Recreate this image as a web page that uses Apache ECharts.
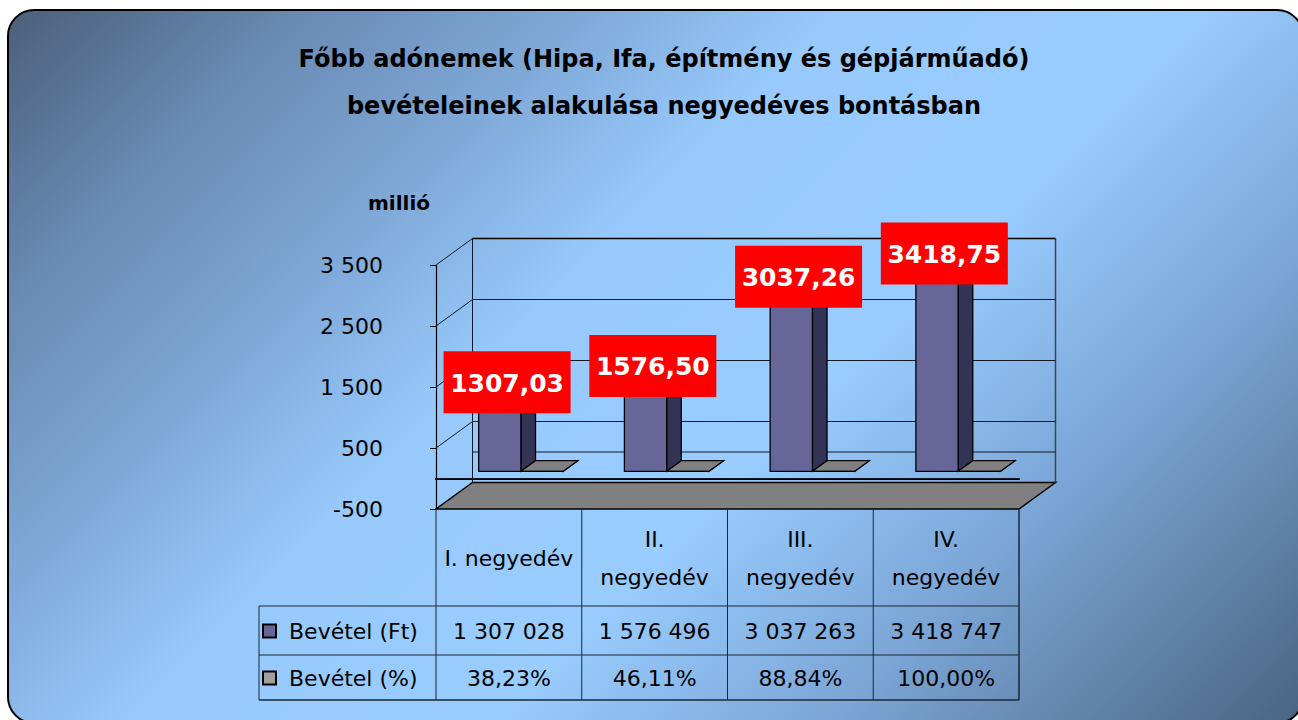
<!DOCTYPE html>
<html><head><meta charset="utf-8">
<script src="https://cdn.jsdelivr.net/npm/echarts@6/dist/echarts.min.js"></script>
<style>html,body{margin:0;padding:0;background:#fff;}#chart{width:1298px;height:720px;}</style>
</head><body><div id="chart"></div>
<script>
// ---------- data ----------
const titleText = 'Főbb adónemek (Hipa, Ifa, építmény és gépjárműadó)\nbevételeinek alakulása negyedéves bontásban';
const unitLabel = 'millió';
const categories = ['I. negyedév', 'II. negyedév', 'III. negyedév', 'IV. negyedév'];
const seriesNames = ['Bevétel (Ft)', 'Bevétel (%)'];
const revenue = [1307028, 1576496, 3037263, 3418747];   // table values (ezer Ft)
const revenueShare = [38.23, 46.11, 88.84, 100.00];     // %
const yTicks = [-500, 500, 1500, 2500, 3500];
const yMin = -500, yMax = 3500, yStep = 1000, zeroLevel = 0;

// ---------- layout / style ----------
const FONT = 'DejaVu Sans';
const DX = 36.5, DY = -26.5;         // full 3D depth offset
const D0 = 0.27, D1 = 0.67;          // bar depth fractions
const BAR_W = 0.29, SHIFT = 0.015;   // fraction of band
const GRID = {left: 436, top: 265, width: 583, height: 244};
const TABLE = {left: 259, rowTop: 606, rowMid: 655, bottom: 700};

const millions = revenue.map(r => r / 1000);
const fmtSpace = n => { const s = String(Math.abs(Math.round(n))).replace(/\B(?=(\d{3})+(?!\d))/g, ' '); return (n < 0 ? '-' : '') + s; };
const fmtDec = (n, d) => n.toFixed(d).replace('.', ',');

function line(a, b, c, d, extra) {
  return {type: 'line', shape: {x1: a, y1: b, x2: c, y2: d}, style: Object.assign({stroke: '#111a24', lineWidth: 1}, extra || {})};
}

function renderWalls(params, api) {
  const cs = params.coordSys;
  const v = api.value(1);
  const y = api.coord([0, v])[1];
  const x0 = cs.x, x1 = cs.x + cs.width;
  const els = [];
  if (v === yMin) {
    els.push({type: 'polygon', shape: {points: [[x0, y], [x1, y], [x1 + DX, y + DY], [x0 + DX, y + DY]]},
      style: {fill: '#808080', stroke: '#000', lineWidth: 1.5}});
    const yt = api.coord([0, yMax])[1];
    els.push(line(x0 + DX, yt + DY, x0 + DX, y + DY));
    els.push(line(x1 + DX, yt + DY, x1 + DX, y + DY, {stroke: '#34475a', lineWidth: 1.5}));
  } else if (v === zeroLevel) {
    els.push(line(x0, y, x1, y));
    els.push(line(x0 + DX, y + DY, x1 + DX, y + DY));
  } else {
    els.push(line(x0, y, x0 + DX, y + DY));
    els.push(line(x0 + DX, y + DY, x1 + DX, y + DY, v === yMax ? {stroke: '#000', lineWidth: 1.5} : null));
  }
  return {type: 'group', children: els};
}

function barGeom(api, slot) {
  const i = api.value(0), v = api.value(1);
  const c = api.coord([i, 0]);
  const bw = api.size([1, 0])[0];
  const W = BAR_W * bw, s = SHIFT * bw;
  const fx = DX * D0, fy = DY * D0;
  const xl = c[0] + s + (slot === 0 ? -W : 0) + fx;
  return {xl: xl, xr: xl + W, W: W, yb: c[1] + fy, yt: api.coord([i, v])[1] + fy,
          ddx: DX * (D1 - D0), ddy: DY * (D1 - D0)};
}

function barRenderer(slot, front, side, top) {
  return function (params, api) {
    const g = barGeom(api, slot);
    const st = {stroke: '#000', lineWidth: 1.3};
    return {type: 'group', children: [
      {type: 'polygon', shape: {points: [[g.xr, g.yb], [g.xr + g.ddx, g.yb + g.ddy], [g.xr + g.ddx, g.yt + g.ddy], [g.xr, g.yt]]},
        style: Object.assign({fill: side}, st)},
      {type: 'polygon', shape: {points: [[g.xl, g.yt], [g.xr, g.yt], [g.xr + g.ddx, g.yt + g.ddy], [g.xl + g.ddx, g.yt + g.ddy]]},
        style: Object.assign({fill: top}, st)},
      {type: 'rect', shape: {x: g.xl, y: g.yt, width: g.W, height: Math.max(0, g.yb - g.yt)},
        style: Object.assign({fill: front}, st)}
    ]};
  };
}

function renderLabel(params, api) {
  const g = barGeom(api, 0);
  const cx = (g.xl + g.xr) / 2 + g.ddx / 2;
  const cy = g.yt + g.ddy / 2 - 4;
  const w = 127, h = 62;
  return {type: 'group', children: [
    {type: 'rect', shape: {x: cx - w / 2, y: cy - h / 2, width: w, height: h}, style: {fill: '#ff0000'}},
    {type: 'text', x: cx, y: cy + 1, style: {text: fmtDec(api.value(1), 2), fill: '#fff',
      font: 'bold 25px "' + FONT + '"', align: 'center', verticalAlign: 'middle'}}
  ]};
}

const chart = echarts.init(document.getElementById('chart'), null, {renderer: 'svg', width: 1298, height: 720});

const bgGradient = new echarts.graphic.LinearGradient(0, 0, 1009, 1009, [
  {offset: 0, color: '#4a5c76'},
  {offset: 0.15, color: '#6889b2'},
  {offset: 0.3, color: '#80aad9'},
  {offset: 0.42, color: '#97c9fc'},
  {offset: 0.6, color: '#99ccff'},
  {offset: 0.77, color: '#7aa5d5'},
  {offset: 1, color: '#4b6482'}
], true);

const tableLineStyle = {stroke: '#1c2836', lineWidth: 1};
const tableRight = GRID.left + GRID.width;
const gridBottom = GRID.top + GRID.height;
const tableGraphics = [
  {type: 'line', z: 10, shape: {x1: TABLE.left, y1: TABLE.rowTop, x2: tableRight, y2: TABLE.rowTop}, style: tableLineStyle},
  {type: 'line', z: 10, shape: {x1: TABLE.left, y1: TABLE.rowMid, x2: tableRight, y2: TABLE.rowMid}, style: tableLineStyle},
  {type: 'line', z: 10, shape: {x1: TABLE.left, y1: TABLE.bottom, x2: tableRight, y2: TABLE.bottom}, style: {stroke: '#1c2836', lineWidth: 1.5}},
  {type: 'line', z: 10, shape: {x1: TABLE.left, y1: TABLE.rowTop, x2: TABLE.left, y2: TABLE.bottom}, style: tableLineStyle}
];
for (let k = 0; k <= categories.length; k++) {
  const x = GRID.left + k * GRID.width / categories.length;
  tableGraphics.push({type: 'line', z: 10, shape: {x1: x, y1: gridBottom, x2: x, y2: TABLE.bottom},
    style: {stroke: '#1c2836', lineWidth: k === categories.length ? 1.5 : 1}});
}

chart.setOption({
  animation: false,
  graphic: [
    {type: 'rect', z: -100, shape: {x: 8, y: 10, width: 1295, height: 713, r: 26},
      style: {fill: bgGradient, stroke: '#000', lineWidth: 2}}
  ].concat(tableGraphics),
  title: {
    text: titleText, left: 659, top: 30, textAlign: 'center',
    textStyle: {fontFamily: FONT, fontSize: 24, fontWeight: 'bold', color: '#000', lineHeight: 47}
  },
  legend: {
    data: seriesNames, orient: 'vertical', left: 262, top: 619, padding: 0,
    itemWidth: 13, itemHeight: 13, itemGap: 23, icon: 'rect', selectedMode: false,
    textStyle: {fontFamily: FONT, fontSize: 22, color: '#000', lineHeight: 24, padding: [0, 0, 0, 8]}
  },
  grid: {left: GRID.left, top: GRID.top, width: GRID.width, height: GRID.height, containLabel: false},
  xAxis: [
    {type: 'category', data: categories, boundaryGap: true, position: 'bottom',
      axisLine: {show: true, lineStyle: {color: '#000', width: 2}},
      axisTick: {show: false},
      axisLabel: {interval: 0, margin: 49, verticalAlign: 'middle', lineHeight: 38,
        fontFamily: FONT, fontSize: 22, color: '#000',
        formatter: v => v.length > 11 ? v.replace(' ', '\n') : v},
      splitLine: {show: false}},
    {type: 'category', data: categories, position: 'bottom', offset: 0,
      axisLine: {show: false}, axisTick: {show: false}, splitLine: {show: false},
      axisLabel: {interval: 0, margin: 122, verticalAlign: 'middle', fontFamily: FONT, fontSize: 22, color: '#000',
        formatter: (v, i) => fmtSpace(revenue[i])}},
    {type: 'category', data: categories, position: 'bottom', offset: 0,
      axisLine: {show: false}, axisTick: {show: false}, splitLine: {show: false},
      axisLabel: {interval: 0, margin: 169, verticalAlign: 'middle', fontFamily: FONT, fontSize: 22, color: '#000',
        formatter: (v, i) => fmtDec(revenueShare[i], 2) + '%'}}
  ],
  yAxis: {
    type: 'value', min: yMin, max: yMax, interval: yStep,
    name: unitLabel, nameLocation: 'end', nameGap: 62,
    nameTextStyle: {fontFamily: FONT, fontSize: 20, fontWeight: 'bold', color: '#000', align: 'right', verticalAlign: 'middle', padding: [0, 6, 0, 0]},
    axisLine: {show: true, lineStyle: {color: '#000', width: 1.2}},
    axisTick: {show: true, length: 6, lineStyle: {color: '#000'}},
    axisLabel: {margin: 53, fontFamily: FONT, fontSize: 22, color: '#000', formatter: v => fmtSpace(v)},
    splitLine: {show: false}
  },
  series: [
    {type: 'custom', name: 'walls', z: 1, silent: true, renderItem: renderWalls,
      encode: {x: 0, y: 1}, data: yTicks.concat([zeroLevel]).map(v => [0, v])},
    {type: 'custom', name: seriesNames[0], z: 3, renderItem: barRenderer(0, '#666699', '#333355', '#8080b0'),
      encode: {x: 0, y: 1}, itemStyle: {color: '#666699', borderColor: '#000', borderWidth: 1},
      data: millions.map((v, i) => [i, v])},
    {type: 'custom', name: seriesNames[1], z: 3, renderItem: barRenderer(1, '#808080', '#404040', '#808080'),
      encode: {x: 0, y: 1}, itemStyle: {color: '#a0a0a0', borderColor: '#000', borderWidth: 1},
      data: revenueShare.map((p, i) => [i, p / 100])},
    {type: 'custom', name: 'labels', z: 5, silent: true, renderItem: renderLabel,
      encode: {x: 0, y: 1}, data: millions.map((v, i) => [i, v])}
  ]
});
</script></body></html>
